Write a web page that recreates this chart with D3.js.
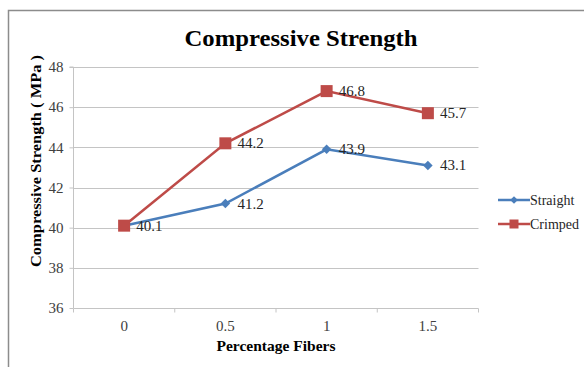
<!DOCTYPE html>
<html><head><meta charset="utf-8">
<script src="https://cdn.jsdelivr.net/npm/d3@7"></script>
<style>body{margin:0;background:#fff}svg{display:block}svg text{font-family:"Liberation Serif","Times New Roman",serif}</style>
</head><body>
<script>
const categories = ["0", "0.5", "1", "1.5"];
const straight = [40.1, 41.2, 43.9, 43.1];
const crimped = [40.1, 44.2, 46.8, 45.7];
const yTicks = [36, 38, 40, 42, 44, 46, 48];
const seriesNames = ["Straight", "Crimped"];
const colors = ["#4a7ebb", "#be4b48"];

(function () {
const W = 584, H = 367;
const svg = d3.select("body").append("svg").attr("width", W).attr("height", H);

// outer frame
svg.append("rect").attr("x", 8.5).attr("y", 10.5).attr("width", 620).attr("height", 400)
  .attr("fill", "none").attr("stroke", "#8c8c8c").attr("stroke-width", 1.5);

const pl = 73.5, pr = 478.5, pt = 67, pb = 308;
const x = d3.scaleBand().domain(categories).range([pl, pr]);
const y = d3.scaleLinear().domain([36, 48]).range([pb, pt]);
const cx = c => x(c) + x.bandwidth() / 2;

// gridlines
svg.append("g").selectAll("line").data(yTicks.filter(d => d !== 36)).join("line")
  .attr("x1", pl).attr("x2", pr)
  .attr("y1", d => Math.round(y(d)) + 0.5).attr("y2", d => Math.round(y(d)) + 0.5)
  .attr("stroke", "#c4c4c4").attr("stroke-width", 1);

// y axis
const yAxis = d3.axisLeft(y).tickValues(yTicks).tickSize(4).tickPadding(6);
const gy = svg.append("g").attr("transform", `translate(${pl},0)`).call(yAxis);
gy.select(".domain").attr("stroke", "#c4c4c4").attr("d", `M-4,${pt}H0V${pb}`);
gy.selectAll(".tick line").attr("stroke", "#c4c4c4");
gy.selectAll(".tick text").attr("font-size", 15).attr("fill", "#404040");

// x axis
const gx = svg.append("g").attr("transform", `translate(0,${Math.round(pb) + 0.5})`);
gx.append("line").attr("x1", pl).attr("x2", pr).attr("stroke", "#c4c4c4");
const bounds = categories.map(c => x(c) + x.bandwidth()).concat([pl]);
gx.selectAll("line.t").data(bounds).join("line").attr("class", "t")
  .attr("x1", d => d).attr("x2", d => d).attr("y1", 0).attr("y2", 4).attr("stroke", "#c4c4c4");
gx.selectAll("text").data(categories).join("text")
  .attr("x", d => cx(d)).attr("y", 22)
  .attr("text-anchor", "middle").attr("font-size", 15).attr("fill", "#404040")
  .text(d => d);

// lines
const line = d3.line().x((d, i) => cx(categories[i])).y(d => y(d));
const data = [straight, crimped];
data.forEach((vals, si) => {
  svg.append("path").datum(vals).attr("d", line).attr("fill", "none")
    .attr("stroke", colors[si]).attr("stroke-width", 2.5);
});
// markers
svg.append("g").selectAll("path").data(straight).join("path")
  .attr("d", d3.symbol().type(d3.symbolSquare).size(45))
  .attr("transform", (d, i) => `translate(${cx(categories[i])},${y(d)}) rotate(45)`)
  .attr("fill", colors[0]);
svg.append("g").selectAll("rect").data(crimped).join("rect")
  .attr("x", (d, i) => cx(categories[i]) - 6)
  .attr("y", d => y(d) - 6).attr("width", 12).attr("height", 12)
  .attr("fill", colors[1]);

// data labels (first point shared by both series: draw once)
data.forEach((vals, si) => {
  svg.append("g").selectAll("text").data(vals.map((v, i) => ({v, i})).filter(d => !(si === 0 && d.i === 0))).join("text")
    .attr("x", d => cx(categories[d.i]) + 12)
    .attr("y", d => y(d.v) + 5)
    .attr("font-size", 15).attr("fill", "#262626")
    .text(d => d.v.toFixed(1));
});

// title
svg.append("text").attr("x", 301).attr("y", 46).attr("text-anchor", "middle")
  .attr("font-size", 24).attr("font-weight", "bold")
  .attr("textLength", 233).attr("lengthAdjust", "spacingAndGlyphs").text("Compressive Strength");

// axis titles
svg.append("text").attr("transform", "translate(41,161) rotate(-90)").attr("text-anchor", "middle")
  .attr("font-size", 15).attr("font-weight", "bold")
  .attr("textLength", 212).attr("lengthAdjust", "spacingAndGlyphs").text("Compressive Strength ( MPa )");
svg.append("text").attr("x", 276).attr("y", 351).attr("text-anchor", "middle")
  .attr("font-size", 15).attr("font-weight", "bold")
  .attr("textLength", 119).attr("lengthAdjust", "spacingAndGlyphs").text("Percentage Fibers");

// legend
const lg = svg.append("g");
seriesNames.forEach((n, i) => {
  const ly = 200 + i * 24;
  lg.append("line").attr("x1", 498).attr("x2", 530).attr("y1", ly).attr("y2", ly)
    .attr("stroke", colors[i]).attr("stroke-width", 2.5);
  if (i === 0) {
    lg.append("path").attr("d", d3.symbol().type(d3.symbolSquare).size(30))
      .attr("transform", `translate(514,${ly}) rotate(45)`).attr("fill", colors[i]);
  } else {
    lg.append("rect").attr("x", 509.5).attr("y", ly - 4.5).attr("width", 9).attr("height", 9).attr("fill", colors[i]);
  }
  lg.append("text").attr("x", 530).attr("y", ly + 5).attr("font-size", 14)
    .attr("fill", "#262626").text(n);
});
})();
</script>
</body></html>
